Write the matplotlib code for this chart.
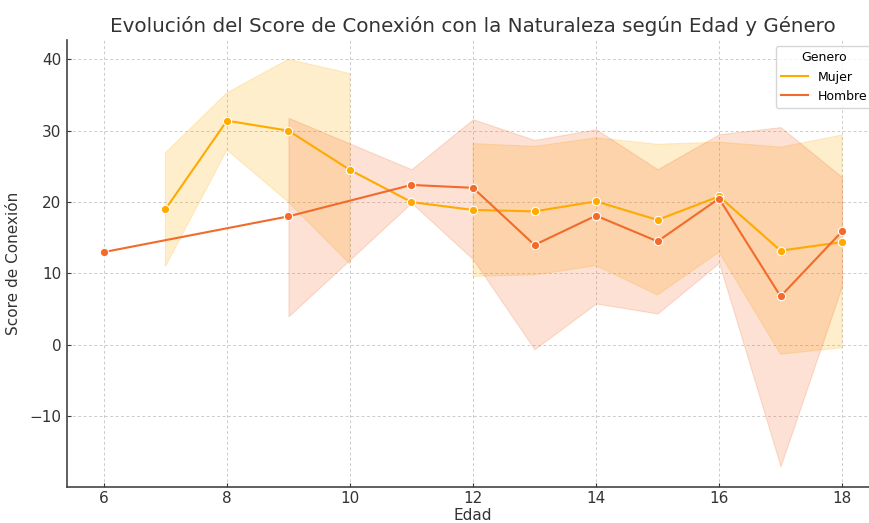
import matplotlib.pyplot as plt
from matplotlib.lines import Line2D
import numpy as np

# edades y valores
edad_mujer = [7, 8, 9, 10, 11, 12, 13, 14, 15, 16, 17, 18]
media_mujer = [19.0, 31.4, 30.0, 24.5, 20.0, 18.9, 18.7, 20.1, 17.5, 20.8, 13.2, 14.4]
inf_mujer = [11.0, 27.3, 20.0, 11.3, np.nan, 9.6, 9.8, 11.1, 7.0, 13.0, -1.3, -0.4]
sup_mujer = [26.9, 35.3, 40.0, 38.0, np.nan, 28.2, 27.8, 29.0, 28.1, 28.4, 27.7, 29.4]

edad_hombre = [6, 9, 11, 12, 13, 14, 15, 16, 17, 18]
media_hombre = [13.0, 18.0, 22.4, 22.0, 14.0, 18.1, 14.5, 20.5, 6.8, 15.9]
inf_hombre = [np.nan, 4.0, 19.9, 12.0, -0.6, 5.8, 4.4, 11.5, -17.0, 8.3]
sup_hombre = [np.nan, 31.8, 24.6, 31.6, 28.7, 30.2, 24.6, 29.5, 30.5, 23.5]

col_mujer = '#FFAA00'
col_hombre = '#F26B2A'

fig = plt.figure(figsize=(8.69, 5.23), dpi=100)
ax = fig.add_axes([67/869, 36/523, (879-67)/869, (487-40)/523])

for x, m, lo, hi, c in [
        (edad_mujer, media_mujer, inf_mujer, sup_mujer, col_mujer),
        (edad_hombre, media_hombre, inf_hombre, sup_hombre, col_hombre)]:
    ax.fill_between(x, lo, hi, color=c, alpha=0.2, linewidth=0.8)
    ax.plot(x, m, color=c, linewidth=1.5, marker='o', markersize=6,
            markeredgecolor='white', markeredgewidth=0.8)

ax.set_xlim(5.4, 18.6)
ax.set_ylim(-19.9, 42.7)
ax.set_xticks([6, 8, 10, 12, 14, 16, 18])
ax.set_yticks([-10, 0, 10, 20, 30, 40])
ax.grid(True, linestyle=(0, (3, 2.5)), color='#cccccc', linewidth=0.7)
ax.set_axisbelow(True)
for s in ['top', 'right']:
    ax.spines[s].set_visible(False)
for s in ['left', 'bottom']:
    ax.spines[s].set_color('#444444')
    ax.spines[s].set_linewidth(1.2)
ax.tick_params(axis='both', labelsize=11, colors='#333333', direction='in',
               length=3, pad=4)
ax.tick_params(axis='x', pad=3)

ax.set_title('Evolución del Score de Conexión con la Naturaleza según Edad y Género',
             fontsize=14.3, color='#333333', pad=6)
ax.set_xlabel('Edad', fontsize=11, color='#333333', labelpad=1)
ax.set_ylabel('Score de Conexión', fontsize=11, color='#333333', labelpad=6)

handles = [Line2D([], [], color=col_mujer, linewidth=1.5),
           Line2D([], [], color=col_hombre, linewidth=1.5)]
ax.legend(handles, ['Mujer', 'Hombre'], title='Genero', loc='upper right',
          fontsize=9, title_fontsize=9, frameon=True, edgecolor='#cccccc',
          borderaxespad=0.5, handlelength=2.2)

plt.savefig('out.png', dpi=100)
